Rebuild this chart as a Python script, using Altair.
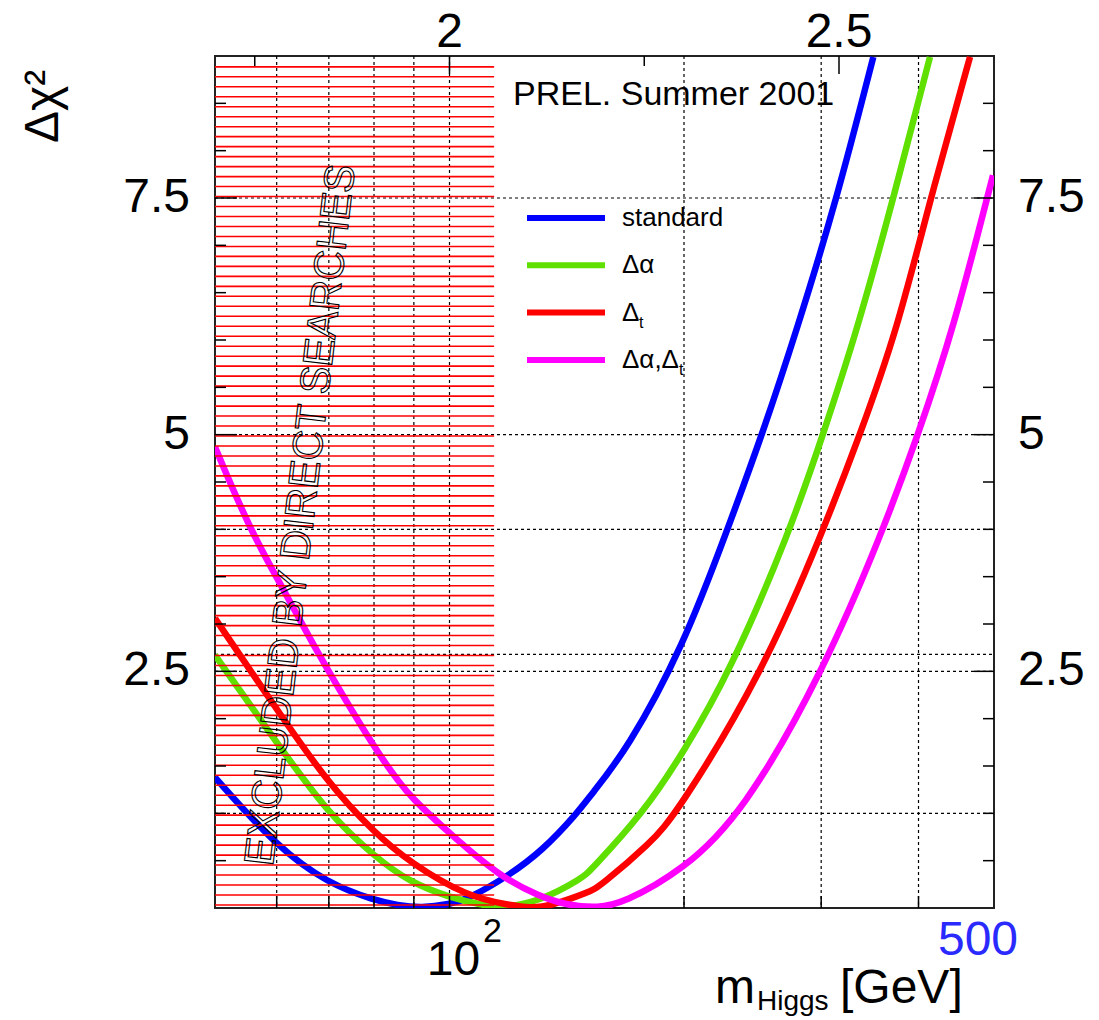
import altair as alt
import pandas as pd
import numpy as np

# ---------------- data ----------------
# Delta chi^2 curves versus m_Higgs [GeV]
std_m = [50.0, 60.1, 69.8, 80.2, 85.7, 92.0, 100.2, 105.3, 118.6, 131.8, 145.8, 151.4, 169.0, 199.5, 227.0, 252.0, 279.0, 314.0, 350.0]
std_c = [1.38, 0.64, 0.26, 0.08, 0.03, 0.00, 0.04, 0.09, 0.33, 0.61, 1.00, 1.18, 1.67, 2.76, 3.98, 5.00, 6.10, 7.48, 8.99]

da_m = [50.0, 60.1, 69.8, 80.2, 89.0, 100.2, 110.4, 117.0, 130.7, 148.4, 151.4, 177.2, 199.5, 229.0, 273.6, 301.6, 333.6, 370.9, 413.8]
da_c = [2.67, 1.74, 1.00, 0.54, 0.27, 0.11, 0.03, 0.00, 0.07, 0.32, 0.39, 1.00, 1.64, 2.49, 3.98, 5.00, 6.10, 7.48, 8.99]

dt_m = [50.0, 60.1, 69.8, 80.2, 89.0, 105.3, 119.6, 126.8, 134.6, 151.4, 156.0, 180.9, 195.9, 252.6, 301.6, 336.5, 375.4, 413.8, 465.8]
dt_c = [3.06, 2.09, 1.32, 0.79, 0.48, 0.12, 0.03, 0.00, 0.02, 0.17, 0.23, 0.68, 1.00, 2.49, 3.98, 5.00, 6.10, 7.48, 8.99]

dadt_m = [50.0, 55.5, 60.6, 64.3, 68.2, 80.7, 86.4, 89.0, 100.2, 116.1, 130.7, 141.5, 155.0, 167.0, 199.5, 238.0, 301.6, 360.0, 399.5, 443.0, 498.5]
dadt_c = [4.87, 3.99, 3.43, 3.04, 2.65, 1.64, 1.32, 1.18, 0.78, 0.33, 0.12, 0.03, 0.00, 0.05, 0.40, 1.00, 2.49, 3.98, 5.00, 6.10, 7.74]

series_names = ["standard", "Δα", "Δt", "Δα,Δt"]
series_colors = ["#0000ff", "#5fe000", "#ff0000", "#ff00ff"]
legend_main = ["standard", "Δα", "Δ", "Δα,Δ"]
legend_sub = ["", "", "t", "t"]

excluded_limit = 114.1          # GeV, direct-search limit
x_domain = [50, 500]
y_domain = [0, 9]
x_grid = [60, 70, 80, 90, 100, 200, 300, 400]
y_grid = [1.0, 2.5, 2.68, 4.0, 5.0, 7.5]
y_major = [2.5, 5.0, 7.5]
y_minor = [0.5, 1.0, 1.5, 2.0, 3.0, 3.5, 4.0, 4.5, 5.5, 6.0, 6.5, 7.0, 8.0, 8.5]
y_labels = ["2.5", "5", "7.5"]
top_major = [2.0, 2.5]            # log10(m_Higgs)
top_minor = [1.75, 2.25]
top_labels = ["2", "2.5"]

# ---------------- layout / style ----------------
W, H = 779, 852
FONT = "Liberation Sans"

xs = alt.Scale(type="log", domain=x_domain, nice=False)
ys = alt.Scale(domain=y_domain, nice=False, zero=False)

def X(field="m"):
    return alt.X(f"{field}:Q", scale=xs, axis=None)

def Y(field="c"):
    return alt.Y(f"{field}:Q", scale=ys, axis=None)

layers = []

# dashed grid
gx = pd.DataFrame({"m": x_grid})
gy = pd.DataFrame({"c": y_grid})
layers.append(alt.Chart(gx).mark_rule(color="black", strokeWidth=1.2, strokeDash=[3, 3])
              .encode(x=X(), y=alt.value(0), y2=alt.value(H)))
layers.append(alt.Chart(gy).mark_rule(color="black", strokeWidth=1.2, strokeDash=[3, 3])
              .encode(y=Y(), x=alt.value(0), x2=alt.value(W)))

# curves
for nm, col, mm, cc in zip(series_names, series_colors,
                           [std_m, da_m, dt_m, dadt_m], [std_c, da_c, dt_c, dadt_c]):
    df = pd.DataFrame({"m": mm, "c": cc})
    layers.append(alt.Chart(df).mark_line(color=col, strokeWidth=6.5, interpolate="basis", clip=True)
                  .encode(x=X(), y=Y()))

# excluded region hatch (horizontal red lines)
hatch = pd.DataFrame({"c": np.arange(0.032, 8.95, 0.1054), "m": x_domain[0], "m2": excluded_limit})
layers.append(alt.Chart(hatch).mark_rule(color="#ff0000", strokeWidth=1.6)
              .encode(y=Y(), x=X("m"), x2="m2:Q"))

# outline text
layers.append(alt.Chart(pd.DataFrame({"t": ["EXCLUDED BY DIRECT SEARCHES"]}))
              .mark_text(font=FONT, fontSize=42, angle=276.7, align="center", baseline="middle",
                         fill="transparent", stroke="black", strokeWidth=1.1)
              .encode(text="t:N", x=alt.value(86), y=alt.value(459)))

# ticks: left / right
ymaj = pd.DataFrame({"c": y_major})
ymin = pd.DataFrame({"c": y_minor})
layers.append(alt.Chart(ymaj).mark_rule(color="black", strokeWidth=1.5)
              .encode(y=Y(), x=alt.value(0), x2=alt.value(22)))
layers.append(alt.Chart(ymin).mark_rule(color="black", strokeWidth=1.5)
              .encode(y=Y(), x=alt.value(0), x2=alt.value(11)))
layers.append(alt.Chart(ymaj).mark_rule(color="black", strokeWidth=1.5)
              .encode(y=Y(), x=alt.value(W - 20), x2=alt.value(W)))
layers.append(alt.Chart(ymin).mark_rule(color="black", strokeWidth=1.5)
              .encode(y=Y(), x=alt.value(W - 11), x2=alt.value(W)))
# bottom ticks
layers.append(alt.Chart(gx).mark_rule(color="black", strokeWidth=1.5)
              .encode(x=X(), y=alt.value(H - 12), y2=alt.value(H)))
# top ticks (log10 m)
tmaj = pd.DataFrame({"m": [10 ** v for v in top_major], "lab": top_labels})
tmin = pd.DataFrame({"m": [10 ** v for v in top_minor]})
layers.append(alt.Chart(tmaj).mark_rule(color="black", strokeWidth=1.5)
              .encode(x=X(), y=alt.value(0), y2=alt.value(18)))
layers.append(alt.Chart(tmin).mark_rule(color="black", strokeWidth=1.5)
              .encode(x=X(), y=alt.value(0), y2=alt.value(10)))

# tick labels
ylab = pd.DataFrame({"c": y_major, "lab": y_labels})
layers.append(alt.Chart(ylab).mark_text(font=FONT, fontSize=48, align="right", baseline="middle", color="black")
              .encode(y=Y(), x=alt.value(-25), text="lab:N"))
layers.append(alt.Chart(ylab).mark_text(font=FONT, fontSize=48, align="left", baseline="middle", color="black")
              .encode(y=Y(), x=alt.value(W + 24), text="lab:N"))
layers.append(alt.Chart(tmaj).mark_text(font=FONT, fontSize=48, align="center", baseline="alphabetic", color="black")
              .encode(x=X(), y=alt.value(-9), text="lab:N"))

# bottom labels: 10^2 and 500
b1 = pd.DataFrame({"m": [100], "t": ["10"]})
b2 = pd.DataFrame({"m": [100], "t": ["2"]})
b3 = pd.DataFrame({"m": [500], "t": ["500"]})
layers.append(alt.Chart(b1).mark_text(font=FONT, fontSize=48, align="center", baseline="alphabetic", dx=4)
              .encode(x=X(), y=alt.value(919), text="t:N"))
layers.append(alt.Chart(b2).mark_text(font=FONT, fontSize=34, align="center", baseline="alphabetic", dx=43)
              .encode(x=X(), y=alt.value(886), text="t:N"))
layers.append(alt.Chart(b3).mark_text(font=FONT, fontSize=48, align="center", baseline="alphabetic", dx=-16,
                                      color="#2a2aff")
              .encode(x=X(), y=alt.value(899), text="t:N"))

# axis titles
def txt(t, x, y, size, angle=0, align="left", baseline="alphabetic", color="black"):
    kw = dict(font=FONT, fontSize=size, align=align, baseline=baseline, color=color)
    if angle:
        kw["angle"] = angle
    return (alt.Chart(pd.DataFrame({"t": [t]})).mark_text(**kw)
            .encode(text="t:N", x=alt.value(x), y=alt.value(y)))

layers.append(txt("m", 500, 947, 48))
layers.append(txt("Higgs", 542, 954, 28))
layers.append(txt("[GeV]", 625, 947, 48))
layers.append(txt("Δχ²", -157, 87, 48, angle=270))
layers.append(txt("PREL. Summer 2001", 298, 49, 34))

# legend
n = len(series_names)
leg = pd.DataFrame({
    "py": [162 + 47.3 * i for i in range(n)],
    "name": series_names,
    "main": legend_main,
    "sub": legend_sub,
    "subx": [407 + o for o in [0, 0, 17, 57]],
})
for i in range(n):
    row = leg.iloc[[i]]
    layers.append(alt.Chart(row).mark_rule(color=series_colors[i], strokeWidth=6)
                  .encode(y=alt.Y("py:Q", scale=None), x=alt.value(312), x2=alt.value(390)))
layers.append(alt.Chart(leg).mark_text(font=FONT, fontSize=26, align="left", baseline="middle", color="black")
              .encode(y=alt.Y("py:Q", scale=None), x=alt.value(407), text="main:N"))
layers.append(alt.Chart(leg).mark_text(font=FONT, fontSize=16, align="left", baseline="middle", color="black", dy=10)
              .encode(y=alt.Y("py:Q", scale=None), x=alt.X("subx:Q", scale=None), text="sub:N"))

chart = alt.layer(*layers).properties(
    width=W, height=H,
    autosize=alt.AutoSizeParams(type="none"),
    padding={"left": 215, "top": 56, "right": 105, "bottom": 112},
    background="white",
).configure_view(stroke="#222222", strokeWidth=2)

chart.save("out.html", embed_options={"renderer": "svg", "actions": False})
